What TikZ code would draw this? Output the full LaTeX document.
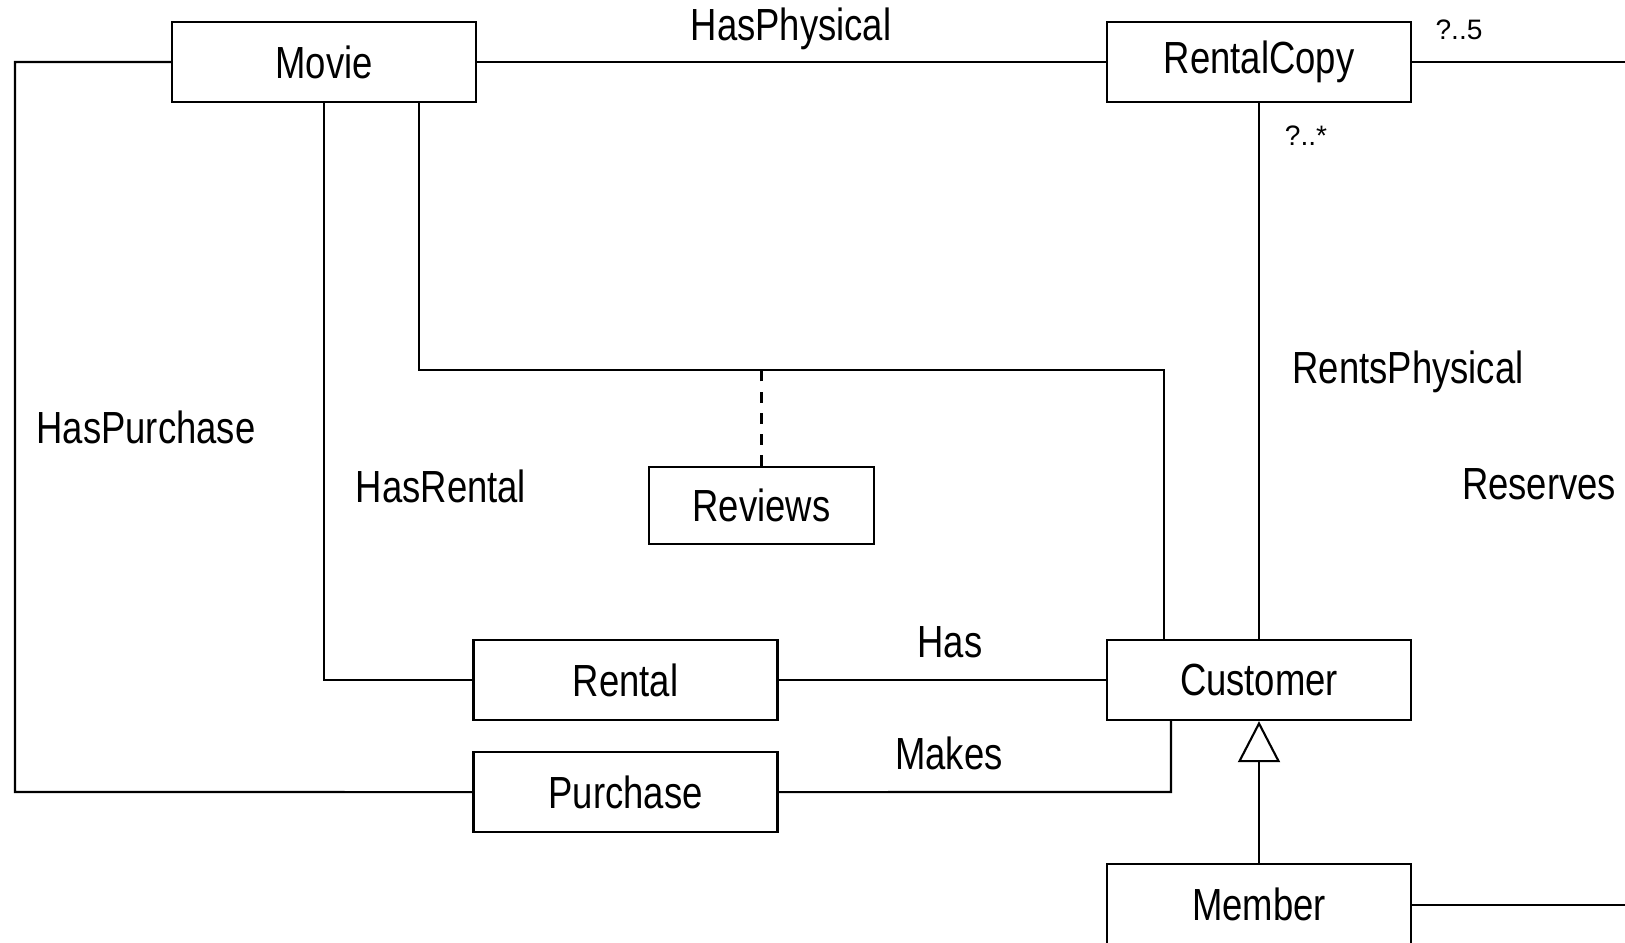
\documentclass[tikz,border=0pt]{standalone}
\usepackage{fontspec}
\setmainfont{Liberation Sans}
\newfontfamily\umlfont[FakeStretch=0.81]{Liberation Sans}
\usetikzlibrary{arrows.meta, positioning}

\begin{document}
\begin{tikzpicture}[
            x = 0.01cm, y = -0.01cm, % one unit per pixel, y down
            semithick, % line style
            node distance = 1.12cm % distance between stacked classes
        ]

        \tikzstyle{class}=[
            draw = black,
            line width = 0.65pt,
            fill = white,
            minimum width = 3.04cm,
            minimum height = 0.8cm,
            inner sep = 0pt,
            font = \umlfont\fontsize{12.8}{15}\selectfont
        ]
        \tikzstyle{assoc}=[inner sep = 0pt, font = \umlfont\fontsize{12.8}{15}\selectfont]
        \tikzstyle{mult}=[inner sep = 0pt, font = \fontsize{8}{10}\selectfont]

        \useasboundingbox (0,0) rectangle (1625,943);

        \node[class] (movie) at (324,62) {Movie};
        \node[class] (rentalcopy) at (1259,62) {RentalCopy};
        \node[class, minimum width = 2.25cm, minimum height = 0.77cm] (reviews) at (761.5,505.5) {Reviews};
        \node[class] (rental) at (625.5,680) {Rental};
        \node[class] (purchase) [below of=rental] {Purchase};
        \node[class] (customer) at (1259,680) {Customer};
        \node[class] (member) [below of=customer, node distance = 2.24cm] {Member};

        \coordinate (hp) at (15,792);
        \coordinate (rv1) at (419,370);
        \coordinate (rv2) at (1164,370);
        \coordinate (mk) at (1171,792);
        \coordinate (rcend) at (1625,62);
        \coordinate (mbend) at (1625,905);

	\draw (movie) -- (rentalcopy);
	\draw (rentalcopy) -- (rcend);
	\draw (rentalcopy) -- (customer);
	\draw (movie.west) -| (hp) -- (purchase.west);
	\draw (movie.south) |- (rental.west);
	\draw (movie.south -| rv1) -- (rv1) -- (rv2) -- (rv2 |- customer.north);
	\draw[dashed] (reviews.north) -- (reviews.north |- rv1);
	\draw (rental) -- (customer);
	\draw (purchase.east) -- (mk) -- (mk |- customer.south);
	\draw[-{Triangle[open, length=0.41cm, width=0.42cm]}] (member) -- (customer);
	\draw (member.east |- mbend) -- (mbend);

        \node[assoc] (hasphysical) at (791,29) {HasPhysical};
        \node[assoc] (haspurchase) at (146,427) {HasPurchase};
        \node[assoc] (hasrental) at (441,486) {HasRental};
        \node[assoc] (rentsphysical) at (1408,372) {RentsPhysical};
        \node[assoc, anchor=west] (reserves) at (1461,484) {Reserves};
        \node[assoc] (has) at (950,642) {Has};
        \node[assoc] (makes) at (949,753) {Makes};
        \node[mult] (multfive) at (1459,30) {?..5};
        \node[mult] (multmany) at (1306,136) {?..*};

    \end{tikzpicture}
\end{document}
